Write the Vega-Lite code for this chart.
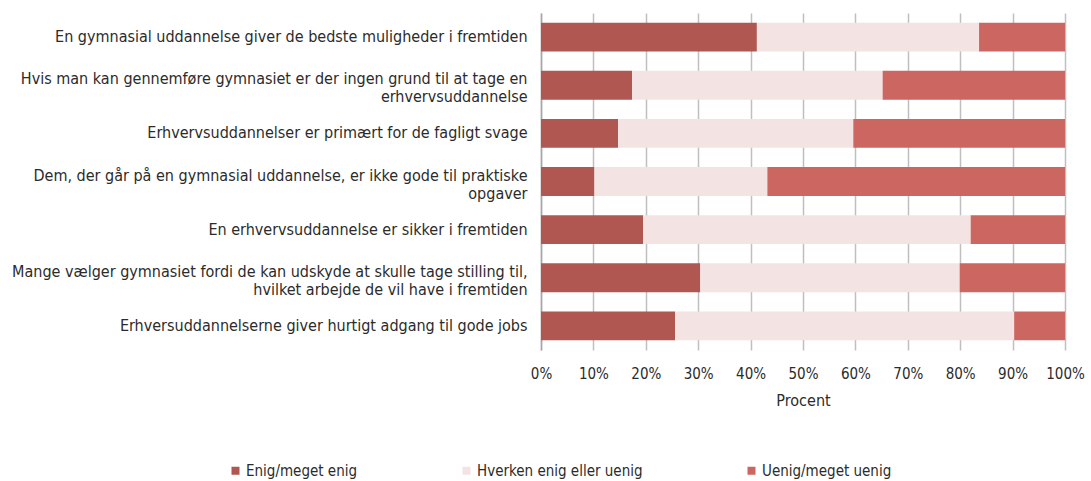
{
  "$schema": "https://vega.github.io/schema/vega-lite/v6.json",
  "width": 524,
  "height": 337,
  "autosize": {"type": "none"},
  "padding": {"left": 541, "top": 13, "right": 26, "bottom": 131},
  "background": "white",
  "config": {
    "view": {"stroke": null},
    "font": "DejaVu Sans Condensed"
  },
  "data": {
    "values": [
      {"s": "En gymnasial uddannelse giver de bedste muligheder i fremtiden", "r": "Enig/meget enig", "v": 41.2},
      {"s": "En gymnasial uddannelse giver de bedste muligheder i fremtiden", "r": "Hverken enig eller uenig", "v": 42.4},
      {"s": "En gymnasial uddannelse giver de bedste muligheder i fremtiden", "r": "Uenig/meget uenig", "v": 16.4},
      {"s": "Hvis man kan gennemføre gymnasiet er der ingen grund til at tage en|erhvervsuddannelse", "r": "Enig/meget enig", "v": 17.4},
      {"s": "Hvis man kan gennemføre gymnasiet er der ingen grund til at tage en|erhvervsuddannelse", "r": "Hverken enig eller uenig", "v": 47.8},
      {"s": "Hvis man kan gennemføre gymnasiet er der ingen grund til at tage en|erhvervsuddannelse", "r": "Uenig/meget uenig", "v": 34.8},
      {"s": "Erhvervsuddannelser er primært for de fagligt svage", "r": "Enig/meget enig", "v": 14.7},
      {"s": "Erhvervsuddannelser er primært for de fagligt svage", "r": "Hverken enig eller uenig", "v": 44.9},
      {"s": "Erhvervsuddannelser er primært for de fagligt svage", "r": "Uenig/meget uenig", "v": 40.4},
      {"s": "Dem, der går på en gymnasial uddannelse, er ikke gode til praktiske|opgaver", "r": "Enig/meget enig", "v": 10.2},
      {"s": "Dem, der går på en gymnasial uddannelse, er ikke gode til praktiske|opgaver", "r": "Hverken enig eller uenig", "v": 33.0},
      {"s": "Dem, der går på en gymnasial uddannelse, er ikke gode til praktiske|opgaver", "r": "Uenig/meget uenig", "v": 56.8},
      {"s": "En erhvervsuddannelse er sikker i fremtiden", "r": "Enig/meget enig", "v": 19.5},
      {"s": "En erhvervsuddannelse er sikker i fremtiden", "r": "Hverken enig eller uenig", "v": 62.5},
      {"s": "En erhvervsuddannelse er sikker i fremtiden", "r": "Uenig/meget uenig", "v": 18.0},
      {"s": "Mange vælger gymnasiet fordi de kan udskyde at skulle tage stilling til,|hvilket arbejde de vil have i fremtiden", "r": "Enig/meget enig", "v": 30.4},
      {"s": "Mange vælger gymnasiet fordi de kan udskyde at skulle tage stilling til,|hvilket arbejde de vil have i fremtiden", "r": "Hverken enig eller uenig", "v": 49.5},
      {"s": "Mange vælger gymnasiet fordi de kan udskyde at skulle tage stilling til,|hvilket arbejde de vil have i fremtiden", "r": "Uenig/meget uenig", "v": 20.1},
      {"s": "Erhversuddannelserne giver hurtigt adgang til gode jobs", "r": "Enig/meget enig", "v": 25.6},
      {"s": "Erhversuddannelserne giver hurtigt adgang til gode jobs", "r": "Hverken enig eller uenig", "v": 64.7},
      {"s": "Erhversuddannelserne giver hurtigt adgang til gode jobs", "r": "Uenig/meget uenig", "v": 9.7}
    ]
  },
  "mark": {"type": "bar"},
  "encoding": {
    "y": {
      "field": "s",
      "type": "nominal",
      "sort": null,
      "title": null,
      "scale": {"paddingInner": 0.4, "paddingOuter": 0.2},
      "axis": {
        "labelExpr": "split(datum.label, '|')",
        "labelFontSize": 16,
        "labelColor": "#2B2B2B",
        "labelLimit": 0,
        "labelPadding": 14,
        "labelLineHeight": 18,
        "labelOffset": {"expr": "indexof(datum.value, '|') >= 0 ? -6 : 0"},
        "ticks": false,
        "domain": true,
        "domainColor": "#A6A6A6",
        "domainWidth": 1.5,
        "grid": false
      }
    },
    "x": {
      "field": "v",
      "type": "quantitative",
      "stack": "zero",
      "title": "Procent",
      "scale": {"domain": [0, 100], "nice": false},
      "axis": {
        "values": [0, 10, 20, 30, 40, 50, 60, 70, 80, 90, 100],
        "labelExpr": "datum.value + '%'",
        "labelFontSize": 15,
        "labelColor": "#2B2B2B",
        "labelPadding": 16,
        "labelOverlap": false,
        "labelFlush": false,
        "ticks": false,
        "domain": false,
        "grid": true,
        "gridColor": "#BFBFBF",
        "gridWidth": 1.5,
        "titleFontSize": 16,
        "titleFontWeight": "normal",
        "titleColor": "#2B2B2B",
        "titlePadding": 11
      }
    },
    "color": {
      "field": "r",
      "type": "nominal",
      "sort": ["Enig/meget enig", "Hverken enig eller uenig", "Uenig/meget uenig"],
      "scale": {
        "domain": ["Enig/meget enig", "Hverken enig eller uenig", "Uenig/meget uenig"],
        "range": ["#AF5750", "#F4E3E3", "#CC6660"]
      },
      "legend": {
        "title": null,
        "orient": "none",
        "direction": "horizontal",
        "columns": 3,
        "legendX": -313,
        "legendY": 450,
        "symbolType": "square",
        "symbolSize": 64,
        "symbolStrokeWidth": 0,
        "labelFontSize": 15,
        "labelColor": "#2B2B2B",
        "labelOffset": 3,
        "columnPadding": 101,
        "labelLimit": 0
      }
    }
  }
}
